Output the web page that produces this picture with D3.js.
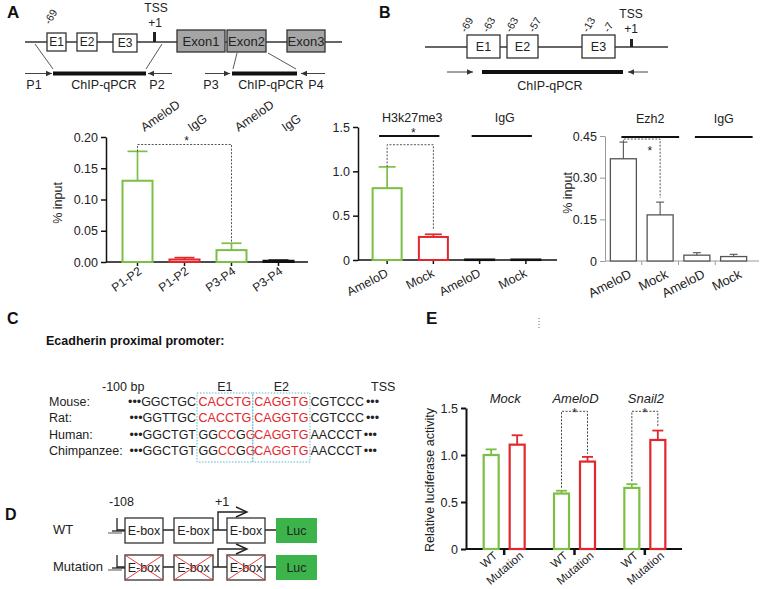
<!DOCTYPE html>
<html lang="en">
<head>
<meta charset="UTF-8">
<title>AmeloD ChIP-qPCR and luciferase figure</title>
<script src="https://d3js.org/d3.v7.min.js"></script>
<style>
  body { margin: 0; background: #fff; }
  svg { display: block; font-family: 'Liberation Sans', Arial, Helvetica, sans-serif; }
</style>
</head>
<body>
<svg id="fig" width="762" height="589"></svg>
<script>
// ---- data ----
// A: ChIP-qPCR on the Ecadherin promoter / exon region
const aSites = ["P1-P2", "P1-P2", "P3-P4", "P3-P4"];
const aAntibody = ["AmeloD", "IgG", "AmeloD", "IgG"];
const aValues = [0.130, 0.004, 0.019, 0.002];
const aErrors = [0.047, 0.003, 0.011, 0.001];
const aTicks = [0, 0.05, 0.10, 0.15, 0.20];

// B: H3k27me3 ChIP
const hGroups = ["H3k27me3", "IgG"];
const hLabels = ["AmeloD", "Mock", "AmeloD", "Mock"];
const hValues = [0.81, 0.26, 0.006, 0.006];
const hErrors = [0.24, 0.03, 0, 0];
const hTicks = [0, 0.5, 1.0, 1.5];

// B: Ezh2 ChIP
const eGroups = ["Ezh2", "IgG"];
const eLabels = ["AmeloD", "Mock", "AmeloD", "Mock"];
const eValues = [0.368, 0.166, 0.021, 0.016];
const eErrors = [0.060, 0.046, 0.009, 0.008];
const eTicks = [0, 0.15, 0.30, 0.45];

// C: promoter sequences
const species = ["Mouse:", "Rat:", "Human:", "Chimpanzee:"];
const seqLeft = ["GGCTGC", "GGTTGC", "GGCTGT", "GGCTGT"];
const seqE1 = ["CACCTG", "CACCTG", "GGCCGG", "GGCCGG"];
const seqE2 = ["CAGGTG", "CAGGTG", "CAGGTG", "CAGGTG"];
const seqRight = ["CGTCCC", "CGTCCC", "AACCCT", "AACCCT"];

// E: luciferase
const lucGroups = ["Mock", "AmeloD", "Snail2"];
const lucConstructs = ["WT", "Mutation"];
const lucWT = [1.00, 0.59, 0.65];
const lucWTErr = [0.06, 0.03, 0.04];
const lucMut = [1.11, 0.93, 1.16];
const lucMutErr = [0.10, 0.05, 0.10];
const lucTicks = [0, 0.5, 1.0, 1.5];

const svg = d3.select("#fig");
const GREEN = "#7cbf45", RED = "#e3262b", INK = "#222", LUC = "#3cb44b";

function txt(g, x, y, s, size, o = {}) {
  const t = g.append("text").attr("x", x).attr("y", y).attr("font-size", size)
    .attr("fill", o.fill || INK).text(s);
  if (o.anchor) t.attr("text-anchor", o.anchor);
  if (o.weight) t.attr("font-weight", o.weight);
  if (o.style) t.attr("font-style", o.style);
  if (o.rotate != null) t.attr("transform", `rotate(${o.rotate},${x},${y})`);
  return t;
}
function line(g, x1, y1, x2, y2, stroke, w, dash) {
  const l = g.append("line").attr("x1", x1).attr("y1", y1).attr("x2", x2).attr("y2", y2)
    .attr("stroke", stroke).attr("stroke-width", w);
  if (dash) l.attr("stroke-dasharray", dash);
  return l;
}
function arrow(g, x1, x2, y) {
  line(g, x1, y, x2, y, "#444", 1);
  const d = x2 > x1 ? 1 : -1;
  g.append("path").attr("d", `M${x2},${y}L${x2 - d * 6},${y - 2.8}L${x2 - d * 6},${y + 2.8}Z`).attr("fill", "#333");
}
function box(g, x1, x2, y1, y2, label, fill, size) {
  g.append("rect").attr("x", x1).attr("y", y1).attr("width", x2 - x1).attr("height", y2 - y1)
    .attr("fill", fill).attr("stroke", "#333").attr("stroke-width", 1.3);
  txt(g, (x1 + x2) / 2, (y1 + y2) / 2 + size * 0.36, label, size, { anchor: "middle" });
}

// ---------- panel A schematic ----------
const sa = svg.append("g");
txt(sa, 7, 18, "A", 17, { weight: "bold", fill: "#111" });
line(sa, 25, 42, 342, 42, "#333", 1.5);
box(sa, 47, 66, 33, 51, "E1", "#fff", 12);
box(sa, 77, 97, 33, 51, "E2", "#fff", 12);
box(sa, 113, 137, 34, 52, "E3", "#fff", 12);
sa.append("rect").attr("x", 153).attr("y", 32).attr("width", 3).attr("height", 10).attr("fill", "#222");
txt(sa, 156, 12, "TSS", 12, { anchor: "middle" });
txt(sa, 155, 27, "+1", 12, { anchor: "middle" });
txt(sa, 50, 25, "-69", 10.5, { rotate: -60 });
box(sa, 177, 225, 30, 52, "Exon1", "#a5a5a5", 13);
box(sa, 227, 266, 30, 52, "Exon2", "#a5a5a5", 13);
box(sa, 287, 325, 30, 52, "Exon3", "#a5a5a5", 13);
line(sa, 35, 44, 53, 69, "#444", 0.9);
line(sa, 162, 44, 146, 69, "#444", 0.9);
line(sa, 237, 53, 233, 69, "#444", 0.9);
line(sa, 268, 53, 296, 69, "#444", 0.9);
sa.append("rect").attr("x", 53).attr("y", 71.5).attr("width", 93).attr("height", 4).attr("fill", "#111");
sa.append("rect").attr("x", 232).attr("y", 71.5).attr("width", 65).attr("height", 4).attr("fill", "#111");
arrow(sa, 25, 52, 73.5); arrow(sa, 172, 148, 73.5);
arrow(sa, 205, 230, 73.5); arrow(sa, 325, 301, 73.5);
txt(sa, 34, 89, "P1", 12.5, { anchor: "middle" });
txt(sa, 104, 89, "ChIP-qPCR", 12.5, { anchor: "middle" });
txt(sa, 157, 89, "P2", 12.5, { anchor: "middle" });
txt(sa, 211, 89, "P3", 12.5, { anchor: "middle" });
txt(sa, 271, 89, "ChIP-qPCR", 12.5, { anchor: "middle" });
txt(sa, 316, 89, "P4", 12.5, { anchor: "middle" });

// ---------- panel B schematic ----------
const sb = svg.append("g");
txt(sb, 379, 18, "B", 16, { weight: "bold", fill: "#111" });
line(sb, 425, 47, 668, 47, "#333", 1.5);
box(sb, 467, 500, 35, 58, "E1", "#fff", 12.5);
box(sb, 507, 538, 35, 58, "E2", "#fff", 12.5);
box(sb, 582, 615, 35, 58, "E3", "#fff", 12.5);
sb.append("rect").attr("x", 630).attr("y", 39).attr("width", 3).attr("height", 8).attr("fill", "#222");
txt(sb, 631, 18, "TSS", 12, { anchor: "middle" });
txt(sb, 631, 33, "+1", 12, { anchor: "middle" });
[["-69", 466], ["-63", 488], ["-63", 511], ["-57", 534], ["-13", 588], ["-7", 609]]
  .forEach(([s, x]) => txt(sb, x, 33, s, 10.5, { rotate: -60 }));
sb.append("rect").attr("x", 482).attr("y", 70).attr("width", 141).attr("height", 4).attr("fill", "#111");
arrow(sb, 447, 473, 72); arrow(sb, 648, 628, 72);
txt(sb, 550, 90, "ChIP-qPCR", 12.5, { anchor: "middle" });

// ---------- generic open-bar chart ----------
function barChart(o) {
  const g = svg.append("g");
  const x = d3.scaleBand().domain(d3.range(o.values.length)).range(o.xRange);
  const y = d3.scaleLinear().domain([0, d3.max(o.ticks)]).range(o.yRange);
  const cx = i => x(i) + x.bandwidth() / 2;
  const ya = g.append("g").attr("transform", `translate(${o.axisX},0)`)
    .call(d3.axisLeft(y).tickValues(o.ticks).tickFormat(o.format).tickSize(5).tickSizeOuter(0).tickPadding(3));
  ya.selectAll("path, line").attr("stroke", o.axisColor).attr("stroke-width", o.axisWidth);
  ya.selectAll("text").attr("font-size", 12.5).attr("fill", INK)
    .attr("font-family", "'Liberation Sans', Arial, sans-serif");
  line(g, o.axisX, y(0), o.xEnd, y(0), o.axisColor, o.axisWidth);
  o.xTicks(x).forEach(t => line(g, t, y(0), t, y(0) + 4, o.axisColor, o.axisWidth));
  g.selectAll("rect.bar").data(o.values).join("rect").attr("class", "bar")
    .attr("x", (d, i) => cx(i) - o.barW / 2).attr("width", o.barW)
    .attr("y", d => y(d)).attr("height", d => Math.max(0.6, y(0) - y(d)))
    .attr("fill", "#fff").attr("stroke", (d, i) => o.colors[i]).attr("stroke-width", o.barStroke);
  o.errors.forEach((e, i) => {
    if (!e) return;
    const v = o.values[i];
    line(g, cx(i), y(v), cx(i), y(v + e), o.colors[i], o.barStroke * 0.85);
    line(g, cx(i) - o.capW / 2, y(v + e), cx(i) + o.capW / 2, y(v + e), o.colors[i], o.barStroke * 0.85);
  });
  o.labels.forEach((s, i) => {
    g.append("text").attr("transform", `translate(${cx(i) + o.lblDx},${o.lblY}) rotate(${o.lblAngle})`)
      .attr("text-anchor", "end").attr("font-size", o.lblSize).attr("fill", INK).text(s);
  });
  return { g, x, y, cx };
}
function bracket(c, i, j, top, dash) {
  const yi = c.y(top.vi), yj = c.y(top.vj);
  c.g.append("path").attr("d", `M${c.cx(i)},${yi}V${c.y(top.level)}H${c.cx(j)}V${yj}`)
    .attr("fill", "none").attr("stroke", "#555").attr("stroke-width", 1).attr("stroke-dasharray", dash);
}

// ---------- panel A chart ----------
const ca = barChart({
  values: aValues, errors: aErrors, ticks: aTicks, format: d3.format(".2f"),
  xRange: [114, 302], yRange: [262, 137], axisX: 106, xEnd: 308,
  axisColor: "#111", axisWidth: 1.5, barW: 30, capW: 20, barStroke: 2,
  colors: [GREEN, RED, GREEN, "#111"],
  xTicks: x => d3.range(aValues.length).map(i => x(i) + x.bandwidth() / 2),
  labels: aSites, lblDx: 5, lblY: 273, lblAngle: -35, lblSize: 12
});
aAntibody.forEach((s, i) => {
  const px = ca.cx(i) + 7, py = 132;
  txt(ca.g, px, py, s, 12.5, { rotate: -35 });
});
bracket(ca, 0, 2, { vi: aValues[0] + aErrors[0], vj: aValues[2] + aErrors[2], level: 0.188 }, "2,1.5");
txt(ca.g, (ca.cx(0) + ca.cx(2)) / 2 + 2, 145, "*", 12, { anchor: "middle" });
ca.g.append("text").attr("transform", "translate(62,203) rotate(-90)").attr("text-anchor", "middle")
  .attr("font-size", 12.5).attr("fill", INK).text("% input");

// ---------- panel B H3k27me3 chart ----------
const ch = barChart({
  values: hValues, errors: hErrors, ticks: hTicks, format: d => d === 0 ? "0" : d3.format(".1f")(d),
  xRange: [364, 549], yRange: [260, 127], axisX: 358, xEnd: 557,
  axisColor: "#111", axisWidth: 1.5, barW: 29, capW: 17, barStroke: 2,
  colors: [GREEN, RED, "#111", "#111"],
  xTicks: x => d3.range(hValues.length).map(i => x(i) + x.bandwidth() / 2),
  labels: hLabels, lblDx: 2, lblY: 276, lblAngle: -27, lblSize: 12.5
});
hGroups.forEach((s, k) => {
  const x1 = ch.cx(2 * k) - 8, x2 = ch.cx(2 * k + 1) + 6;
  line(ch.g, x1, 136, x2, 136, "#111", 2);
  txt(ch.g, (x1 + x2) / 2 + 3, 122, s, 12.5, { anchor: "middle" });
});
bracket(ch, 0, 1, { vi: hValues[0] + hErrors[0], vj: hValues[1] + hErrors[1] + 0.05, level: 1.30 }, "2,1.5");
txt(ch.g, (ch.cx(0) + ch.cx(1)) / 2 + 3, 137, "*", 12, { anchor: "middle" });

// ---------- panel B Ezh2 chart ----------
const ce = barChart({
  values: eValues, errors: eErrors, ticks: eTicks, format: d => d === 0 ? "0" : d3.format(".2f")(d),
  xRange: [605, 752], yRange: [261, 136], axisX: 605, xEnd: 759,
  axisColor: "#9a9a9a", axisWidth: 1, barW: 26, capW: 8, barStroke: 1.3,
  colors: ["#555", "#555", "#555", "#555"],
  xTicks: x => d3.range(1, eValues.length).map(i => x(i)),
  labels: eLabels, lblDx: 9, lblY: 277, lblAngle: -27, lblSize: 13
});
eGroups.forEach((s, k) => {
  const x1 = ce.cx(2 * k) - 2, x2 = ce.cx(2 * k + 1) + 19;
  line(ce.g, x1, 137, x2, 137, "#111", 2);
  txt(ce.g, (x1 + x2) / 2, 123, s, 12.5, { anchor: "middle" });
});
bracket(ce, 0, 1, { vi: eValues[0] + eErrors[0], vj: eValues[1] + eErrors[1] + 0.015, level: 0.439 }, "2,1.5");
txt(ce.g, (ce.cx(0) + ce.cx(1)) / 2 + 8, 155, "*", 12, { anchor: "middle" });
ce.g.append("text").attr("transform", "translate(572,193) rotate(-90)").attr("text-anchor", "middle")
  .attr("font-size", 12.5).attr("fill", INK).text("% input");

// ---------- panel C ----------
const sc = svg.append("g");
txt(sc, 7, 324, "C", 16, { weight: "bold", fill: "#111" });
txt(sc, 46, 345, "Ecadherin proximal promoter:", 12.5, { weight: "bold", fill: "#111" });
const SEQ = 12.5;
function textWidth(s) {
  const t = sc.append("text").attr("font-size", SEQ).text(s);
  const w = t.node().getComputedTextLength();
  t.remove();
  return w;
}
const b1 = 197, w1 = textWidth(seqE1[0]) + 3, b2 = b1 + w1, w2 = textWidth(seqE2[0]) + 3, b3 = b2 + w2;
const rowY = d3.scalePoint().domain(species).range([406, 455]);
species.forEach((sp, r) => {
  const yy = rowY(sp);
  txt(sc, 49, yy, sp, SEQ);
  txt(sc, b1 - 1, yy, "\u2022\u2022\u2022" + seqLeft[r], SEQ, { anchor: "end" });
  const t1 = txt(sc, b1 + 1.5, yy, "", SEQ);
  seqE1[r].split("").forEach((ch, k) => {
    t1.append("tspan").attr("fill", ch === seqE1[0][k] ? RED : INK).text(ch);
  });
  txt(sc, b2 + 1.5, yy, seqE2[r], SEQ, { fill: RED });
  const t3 = txt(sc, b3 + 0.5, yy, seqRight[r], SEQ);
  t3.append("tspan").attr("dx", 2).text("\u2022\u2022\u2022");
});
[[b1, w1], [b2, w2]].forEach(([bx, bw]) => {
  sc.append("rect").attr("x", bx).attr("y", 393).attr("width", bw).attr("height", 69)
    .attr("fill", "none").attr("stroke", "#5cb6c8").attr("stroke-width", 1).attr("stroke-dasharray", "1.5,1.5");
});
txt(sc, 102, 391, "-100 bp", SEQ);
txt(sc, b1 + w1 / 2, 391, "E1", SEQ, { anchor: "middle" });
txt(sc, b2 + w2 / 2, 391, "E2", SEQ, { anchor: "middle" });
txt(sc, 371, 391, "TSS", SEQ);

// ---------- panel D ----------
const sd = svg.append("g");
txt(sd, 5, 520, "D", 16, { weight: "bold", fill: "#111" });
txt(sd, 109, 506, "-108", 12.5);
txt(sd, 215, 506, "+1", 12.5);
function construct(y, label, mutated) {
  const top = y - 12, bottom = y + 13;
  txt(sd, 53, y + 4, label, 13);
  line(sd, 108, y + 3, 122, y + 3, "#aaa", 2);
  line(sd, 117, y, 276, y, "#222", 1.3);
  line(sd, 117, top, 117, y + 1, "#222", 1.3);
  line(sd, 112, y + 1, 125, y + 1, "#222", 1.3);
  [[125, 163], [174, 213], [227, 265]].forEach(([a, b]) => {
    box(sd, a, b, top, bottom, "E-box", "#fff", 12.5);
    if (mutated) {
      line(sd, a, top, b, bottom, RED, 0.9);
      line(sd, b, top, a, bottom, RED, 0.9);
    }
  });
  sd.append("rect").attr("x", 276).attr("y", top).attr("width", 41).attr("height", bottom - top).attr("fill", LUC);
  txt(sd, 296.5, y + 5, "Luc", 12.5, { anchor: "middle" });
  sd.append("path").attr("d", `M218,${y}V${y - 18}H246`).attr("fill", "none").attr("stroke", "#222").attr("stroke-width", 1.4);
  sd.append("path").attr("d", `M236,${y - 23}L247,${y - 18}L236,${y - 13}`).attr("fill", "none").attr("stroke", "#222").attr("stroke-width", 1.4);
}
construct(530, "WT", false);
construct(567, "Mutation", true);

// ---------- panel E ----------
const se = svg.append("g");
txt(se, 426, 324, "E", 17, { weight: "bold", fill: "#111" });
line(se, 539, 318, 539, 328, "#666", 1, "1,2");
const lx = d3.scaleBand().domain(lucGroups).range([469, 680]);
const lsub = d3.scalePoint().domain(lucConstructs).range([-13, 13]);
const ly = d3.scaleLinear().domain([0, d3.max(lucTicks)]).range([549, 408]);
const lgc = g => lx(g) + lx.bandwidth() / 2;
const ly0 = se.append("g").attr("transform", "translate(466,0)")
  .call(d3.axisLeft(ly).tickValues(lucTicks).tickFormat(d => d === 0 ? "0" : d3.format(".1f")(d)).tickSize(5).tickSizeOuter(0).tickPadding(3));
ly0.selectAll("path, line").attr("stroke", "#111").attr("stroke-width", 2);
ly0.selectAll("text").attr("font-size", 12.5).attr("fill", INK).attr("font-family", "'Liberation Sans', Arial, sans-serif");
line(se, 466, ly(0), 682, ly(0), "#111", 2);
lucGroups.forEach(gname => line(se, lgc(gname), ly(0), lgc(gname), ly(0) + 6, "#111", 2.5));
const lucRows = lucGroups.flatMap((gname, i) => [
  { g: gname, c: "WT", v: lucWT[i], e: lucWTErr[i], col: GREEN },
  { g: gname, c: "Mutation", v: lucMut[i], e: lucMutErr[i], col: RED }
]);
const bx = d => lgc(d.g) + lsub(d.c);
se.selectAll("rect.luc").data(lucRows).join("rect").attr("class", "luc")
  .attr("x", d => bx(d) - 7.5).attr("width", 15)
  .attr("y", d => ly(d.v)).attr("height", d => ly(0) - ly(d.v))
  .attr("fill", "#fff").attr("stroke", d => d.col).attr("stroke-width", 2.2);
lucRows.forEach(d => {
  line(se, bx(d), ly(d.v), bx(d), ly(d.v + d.e), d.col, 1.8);
  line(se, bx(d) - 5.5, ly(d.v + d.e), bx(d) + 5.5, ly(d.v + d.e), d.col, 1.8);
  se.append("text").attr("transform", `translate(${bx(d) + 7},557) rotate(-40)`)
    .attr("text-anchor", "end").attr("font-size", 11.5).attr("fill", INK).text(d.c);
});
lucGroups.forEach(gname => txt(se, lgc(gname) + 1, 403, gname, 13, { anchor: "middle", style: "italic" }));
[1, 2].forEach(i => {
  const wt = lucRows[2 * i], mu = lucRows[2 * i + 1];
  se.append("path")
    .attr("d", `M${bx(wt)},${ly(wt.v + wt.e) - 3}V${ly(1.465)}H${bx(mu)}V${ly(mu.v + mu.e) - 3}`)
    .attr("fill", "none").attr("stroke", "#444").attr("stroke-width", 1).attr("stroke-dasharray", "2,1.5");
  txt(se, (bx(wt) + bx(mu)) / 2, 417, "*", 12, { anchor: "middle" });
});
se.append("text").attr("transform", "translate(434,480) rotate(-90)").attr("text-anchor", "middle")
  .attr("font-size", 12.5).attr("fill", INK).text("Relative luciferase activity");
</script>
</body>
</html>
